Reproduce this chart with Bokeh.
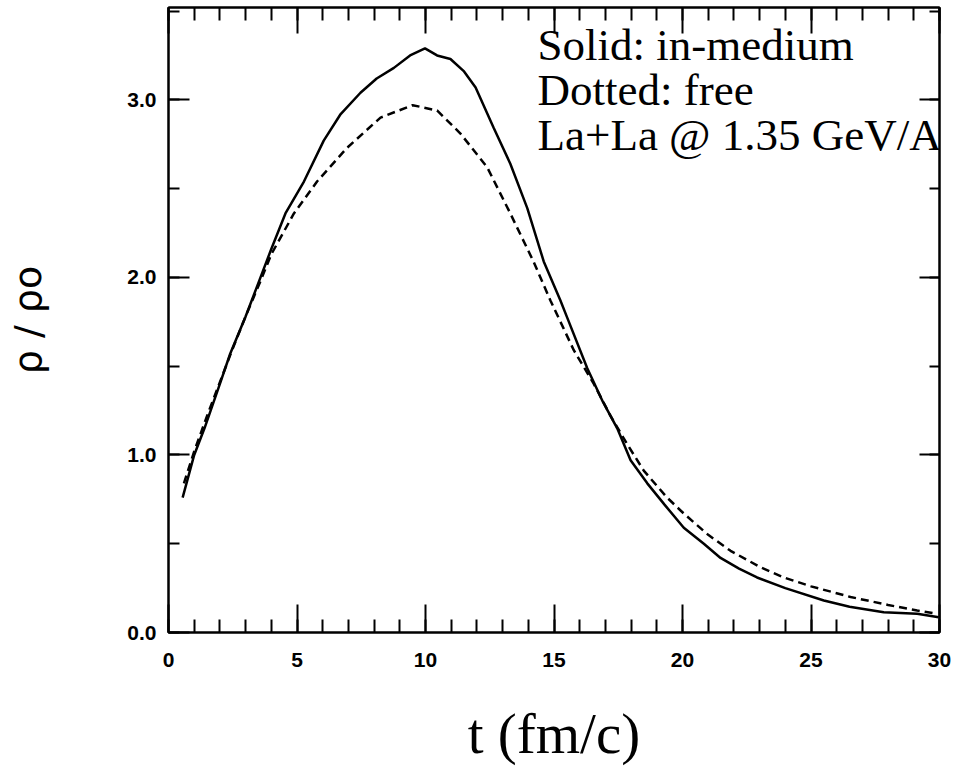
from bokeh.plotting import figure
from bokeh.models import (LinearAxis, SingleIntervalTicker, PrintfTickFormatter,
                          Label, Range1d, ColumnDataSource)
from bokeh.embed import file_html
from bokeh.resources import INLINE

# ---- data ----
t_medium = [0.55, 1.0, 1.4, 2.0, 2.4, 3.0, 3.58, 4.0, 4.55, 5.27, 6.04, 6.7, 7.47,
            8.1, 8.77, 9.4, 9.98, 10.45, 10.97, 11.5, 11.95, 12.66, 13.3, 13.96,
            14.6, 15.25, 15.51, 16.29, 16.9, 17.46, 17.98, 18.63, 19.3, 20.05,
            20.83, 21.48, 22.2, 22.9, 24.0, 25.5, 26.5, 27.83, 29.13, 29.97]
rho_medium = [0.76, 1.0, 1.15, 1.40, 1.57, 1.78, 2.0, 2.16, 2.36, 2.54, 2.77, 2.92, 3.04,
              3.12, 3.18, 3.25, 3.29, 3.25, 3.23, 3.16, 3.07, 2.84, 2.64, 2.39,
              2.09, 1.87, 1.775, 1.49, 1.30, 1.15, 0.97, 0.84, 0.72, 0.59,
              0.50, 0.42, 0.36, 0.31, 0.25, 0.18, 0.145, 0.114, 0.105, 0.086]

t_free = [0.6, 1.0, 1.5, 2.0, 2.5, 3.0, 3.58, 4.0, 4.88, 5.78, 6.95, 8.25, 9.5,
          10.45, 11.36, 12.4, 13.3, 14.2, 14.86, 15.77, 16.55, 17.2, 17.85, 18.5,
          19.4, 20.05, 21.0, 21.87, 23.0, 23.94, 25.0, 26.54, 28.0, 29.13, 29.9]
rho_free = [0.84, 1.02, 1.22, 1.41, 1.60, 1.78, 1.98, 2.13, 2.36, 2.54, 2.73, 2.90, 2.97,
            2.94, 2.81, 2.62, 2.36, 2.09, 1.87, 1.59, 1.40, 1.22, 1.06, 0.91,
            0.76, 0.67, 0.55, 0.46, 0.37, 0.31, 0.26, 0.20, 0.155, 0.124, 0.105]

notes = ["Solid: in-medium", "Dotted: free", "La+La @ 1.35 GeV/A"]
x_title = "t (fm/c)"
y_title = "ρ / ρo"

TICK_FONT = "Liberation Sans"
SERIF = "Liberation Serif"

p = figure(width=953, height=769, output_backend="svg", toolbar_location=None,
           x_range=Range1d(0, 30), y_range=Range1d(0, 3.52),
           min_border_left=168, min_border_right=14, min_border_top=7,
           min_border_bottom=137, background_fill_color="white",
           border_fill_color="white", outline_line_color="black",
           outline_line_width=2)
p.xgrid.visible = False
p.ygrid.visible = False

src_m = ColumnDataSource(dict(t=t_medium, r=rho_medium))
src_f = ColumnDataSource(dict(t=t_free, r=rho_free))
p.line("t", "r", source=src_m, line_color="black", line_width=2.5)
p.line("t", "r", source=src_f, line_color="black", line_width=2.5, line_dash="8 5")

# bottom axis
xa = p.xaxis[0]
xa.ticker = SingleIntervalTicker(interval=5, num_minor_ticks=5)
xa.major_tick_in = 28
xa.major_tick_out = 0
xa.minor_tick_in = 13
xa.minor_tick_out = 0
xa.axis_line_width = 2
xa.major_tick_line_width = 2
xa.minor_tick_line_width = 2
xa.major_label_text_font = TICK_FONT
xa.major_label_text_font_style = "bold"
xa.major_label_text_font_size = "21px"
xa.major_label_text_color = "black"
xa.major_label_standoff = 20
xa.axis_label = x_title
xa.axis_label_text_font = SERIF
xa.axis_label_text_font_style = "normal"
xa.axis_label_text_font_size = "57px"
xa.axis_label_standoff = 32
xa.axis_label_text_color = "black"

# left axis
ya = p.yaxis[0]
ya.ticker = SingleIntervalTicker(interval=1, num_minor_ticks=2)
ya.formatter = PrintfTickFormatter(format="%.1f")
ya.major_tick_in = 21
ya.major_tick_out = 0
ya.minor_tick_in = 11
ya.minor_tick_out = 0
ya.axis_line_width = 2
ya.major_tick_line_width = 2
ya.minor_tick_line_width = 2
ya.major_label_text_font = TICK_FONT
ya.major_label_text_font_style = "bold"
ya.major_label_text_font_size = "21px"
ya.major_label_text_color = "black"
ya.major_label_standoff = 12
ya.axis_label = y_title
ya.axis_label_text_font = "DejaVu Sans"
ya.axis_label_text_font_style = "normal"
ya.axis_label_text_font_size = "38px"
ya.axis_label_standoff = 74
ya.axis_label_text_color = "black"

# top axis (ticks only)
ta = LinearAxis(ticker=SingleIntervalTicker(interval=5, num_minor_ticks=5),
                major_tick_in=26, major_tick_out=0, minor_tick_in=13, minor_tick_out=0,
                axis_line_width=2, major_tick_line_width=2, minor_tick_line_width=2,
                major_label_text_font_size="1px", major_label_text_color=None,
                major_label_text_alpha=0, major_label_standoff=0)
p.add_layout(ta, "above")

# right axis (ticks only)
ra = LinearAxis(ticker=SingleIntervalTicker(interval=1, num_minor_ticks=2),
                major_tick_in=20, major_tick_out=0, minor_tick_in=10, minor_tick_out=0,
                axis_line_width=2, major_tick_line_width=2, minor_tick_line_width=2,
                major_label_text_font_size="1px", major_label_text_color=None,
                major_label_text_alpha=0, major_label_standoff=0)
p.add_layout(ra, "right")

# annotation text
note_x = 14.36
note_y = [3.31, 3.057, 2.804]
for txt, yy in zip(notes, note_y):
    p.add_layout(Label(x=note_x, y=yy, text=txt, text_font=SERIF,
                       text_font_size="45px", text_color="black",
                       text_baseline="alphabetic", text_align="left"))

open("out.html", "w").write(file_html(p, INLINE))
